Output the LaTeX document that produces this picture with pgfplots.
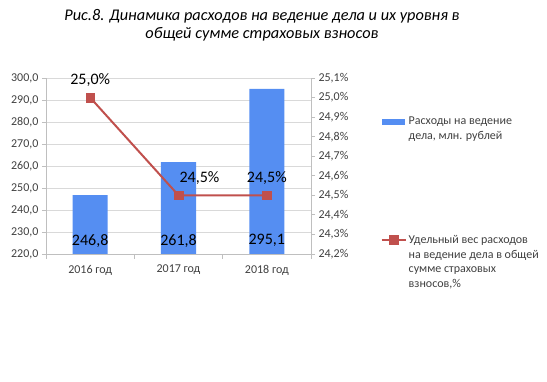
\documentclass[border=0pt]{standalone}
\usepackage{pgfplots}
\pgfplotsset{compat=1.18}
\usepackage{fontspec}
\setmainfont{Carlito}
\definecolor{barblue}{RGB}{85,142,242}
\definecolor{linered}{RGB}{192,80,77}
\definecolor{gridgray}{RGB}{217,217,217}
\definecolor{axgray}{RGB}{191,191,191}
\definecolor{txt}{RGB}{64,64,64}
\pgfplotsset{
  redlegend/.style={legend image code/.code={\draw[mark repeat=2, mark phase=2, ##1] plot coordinates {(0pt,3.3pt) (12pt,3.3pt) (24pt,3.3pt)};}},
  bluelegend/.style={legend image code/.code={\fill[barblue] (0pt,0.8pt) rectangle (22pt,5.8pt);}},
}
\newcommand{\lstack}[1]{\begin{tabular}[t]{@{}l@{}}#1\end{tabular}}
\begin{document}
\begin{tikzpicture}
\useasboundingbox (0pt,0pt) rectangle (547pt,382pt);
\pgfplotsset{
  myaxis/.style={
    at={(46pt,128pt)}, anchor=south west, scale only axis,
    width=265pt, height=176pt, xmin=-0.5, xmax=2.5,
    /pgf/number format/.cd, assume math mode=true, use comma, fixed, fixed zerofill, precision=1,
    /pgfplots/.cd,
    tick label style={font=\fontsize{12}{14}\selectfont, text=txt},
    tick align=outside, major tick length=4pt,
  }
}
\begin{axis}[myaxis,
  ymin=220, ymax=300, ytick={220,230,240,250,260,270,280,290,300},
  ymajorgrids, grid style={gridgray, line width=0.8pt},
  axis x line*=bottom, axis y line*=left,
  axis line style={axgray, line width=0.8pt},
  xtick={0,1,2}, xticklabels={2016 год, 2017 год, 2018 год},
  x tick label style={yshift=-3.5pt},
  every major x tick/.append style={draw=none},
  minor xtick={-0.5,0.5,1.5,2.5},
  every minor x tick/.append style={axgray, line width=0.8pt},
  minor tick length=5pt,
  every y tick/.append style={axgray, line width=0.8pt},
  title={Рис.8. Динамика расходов на ведение дела и их уровня в\\общей сумме страховых взносов},
  title style={at={(0.815,1.377)}, anchor=north, align=center, font=\fontsize{16.3}{18}\selectfont\itshape, text=black},
]
\addplot[ybar, bar width=35pt, bar shift=0pt, fill=barblue, draw=none]
  coordinates {(0,246.8) (1,261.8) (2,295.1)};
\addplot[draw=none, mark=none, nodes near coords, point meta=explicit,
  every node near coord/.append style={anchor=center, font=\fontsize{16}{19}\selectfont, text=black}]
  coordinates {(0,226.0) [246.8] (1,226.0) [261.8] (2,226.0) [295.1]};
\end{axis}
\begin{axis}[myaxis,
  ymin=24.2, ymax=25.1, ytick={24.2,24.3,24.4,24.5,24.6,24.7,24.8,24.9,25.0,25.1},
  axis y line*=right, axis x line=none,
  axis line style={axgray, line width=0.8pt},
  every y tick/.append style={axgray, line width=0.8pt},
  yticklabel={\pgfmathprintnumber{\tick}\%},
  legend style={at={(1.251,0.818)}, anchor=north west, draw=none, fill=none,
    font=\fontsize{12}{14.7}\selectfont, text=txt, row sep=103pt,
    cells={anchor=base west}},
]
\addlegendimage{bluelegend}
\addlegendentry{\lstack{Расходы на ведение\\дела, млн. рублей}}
\addplot[linered, line width=2pt, mark=square*, mark size=4.3pt,
  mark options={fill=linered, draw=linered, line width=0.5pt},
  nodes near coords={\pgfmathprintnumber{\pgfplotspointmeta}\%}, point meta=y,
  every node near coord/.append style={anchor=center, yshift=17.5pt, font=\fontsize{16}{19}\selectfont, text=black},
  coordinate style/.condition={x==1}{xshift=21pt},
  redlegend]
  coordinates {(0,25.0) (1,24.5) (2,24.5)};
\addlegendentry{\lstack{Удельный вес расходов\\на ведение дела в общей\\сумме страховых\\взносов,\%}}
\end{axis}
\end{tikzpicture}
\end{document}
